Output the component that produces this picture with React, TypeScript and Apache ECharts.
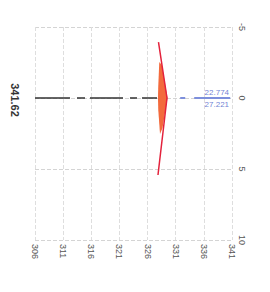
import React, { useEffect, useRef } from "react";
import * as echarts from "echarts";

// Value-axis base (ticks are counted from min, so the axis runs from 0 and labels add the base back)
const X_BASE = 306;
const xTickValues = [306, 311, 316, 321, 326, 331, 336, 341];
const yTickValues = [-5, 0, 5, 10];
const titleText = "341.62";

// Red outline (x value, y value)
const redLineX = [327.94, 329.45, 327.85];
const redLineY = [-3.94, 0, 5.42];

// Orange filled region vertices
const orangeX = [328.08, 328.54, 329.54, 328.65, 328.21, 327.9, 327.85, 327.9];
const orangeY = [-2.54, -2.32, 0, 2.11, 2.54, 0.85, 0, -0.85];

// Reference lines at y = 0
const blackRefX = [306, 329.4];
const blueRefX = [331.8, 341];
const refY = 0;

// Blue labels
const blueLabelX = [338.3, 338.3];
const blueLabelText = ["22.774", "27.221"];
const blueLabelPos = ["top", "bottom"];

export default function App() {
  const ref = useRef<HTMLDivElement>(null);

  useEffect(() => {
    if (!ref.current) return;
    const chart = echarts.init(ref.current, undefined, { renderer: "svg" });
    const toX = (v: number) => v - X_BASE;

    const orangePts = orangeX.map((x, i) => [toX(x), orangeY[i]]);

    const option: any = {
      animation: false,
      backgroundColor: "#ffffff",
      grid: { left: 35, right: 38, top: 27, bottom: 52, containLabel: false },
      xAxis: {
        type: "value",
        min: 0,
        max: xTickValues[xTickValues.length - 1] - X_BASE,
        interval: xTickValues[1] - xTickValues[0],
        axisLine: { show: false },
        axisTick: { show: false },
        axisLabel: {
          rotate: -90,
          fontSize: 9,
          color: "#555",
          margin: 4,
          formatter: (v: number) => String(v + X_BASE),
        },
        splitLine: { show: true, lineStyle: { type: "dashed", color: "#dedede", width: 1 } },
      },
      yAxis: {
        type: "value",
        position: "right",
        inverse: true,
        min: yTickValues[0],
        max: yTickValues[yTickValues.length - 1],
        interval: yTickValues[1] - yTickValues[0],
        axisLine: { show: false },
        axisTick: { show: false },
        axisLabel: { rotate: -90, fontSize: 9, color: "#555", margin: 5 },
        splitLine: { show: true, lineStyle: { type: "dashed", color: "#d4d4d4", width: 1 } },
      },
      graphic: [
        {
          type: "text",
          x: 15,
          y: 100,
          rotation: -Math.PI / 2,
          style: {
            text: titleText,
            fontSize: 11,
            fontWeight: "bold",
            fill: "#333",
            align: "center",
            verticalAlign: "middle",
            fontFamily: "sans-serif",
          },
        },
      ],
      series: [
        {
          type: "line",
          data: blackRefX.map((x) => [toX(x), refY]),
          symbol: "none",
          lineStyle: { color: "#333", width: 1.6, type: [35, 7, 8, 5, 33, 7, 7, 5, 15, 4] },
          z: 2,
        },
        {
          type: "line",
          data: blueRefX.map((x) => [toX(x), refY]),
          symbol: "none",
          lineStyle: { color: "#7d8fdc", width: 2, type: [5, 9, 36, 4] },
          z: 2,
        },
        {
          type: "custom",
          silent: true,
          data: orangePts,
          renderItem: (params: any, api: any) => {
            if (params.dataIndex !== 0) return null;
            const pts = orangePts.map((p) => api.coord(p));
            return { type: "polygon", shape: { points: pts }, style: { fill: "#f36a3c" } };
          },
          z: 3,
        },
        {
          type: "line",
          data: redLineX.map((x, i) => [toX(x), redLineY[i]]),
          symbol: "none",
          lineStyle: { color: "#e3223c", width: 1.5 },
          z: 4,
        },
        {
          type: "scatter",
          symbolSize: 0,
          data: blueLabelX.map((x, i) => ({
            value: [toX(x), refY],
            label: {
              show: true,
              position: blueLabelPos[i],
              distance: 2,
              formatter: blueLabelText[i],
              color: "#4a5ec8",
              fontSize: 8,
            },
          })),
          z: 5,
        },
      ],
    };
    chart.setOption(option);
    return () => chart.dispose();
  }, []);

  return (
    <div
      ref={ref}
      style={{ position: "fixed", left: 0, top: 0, width: 270, height: 292, background: "#fff" }}
    />
  );
}
